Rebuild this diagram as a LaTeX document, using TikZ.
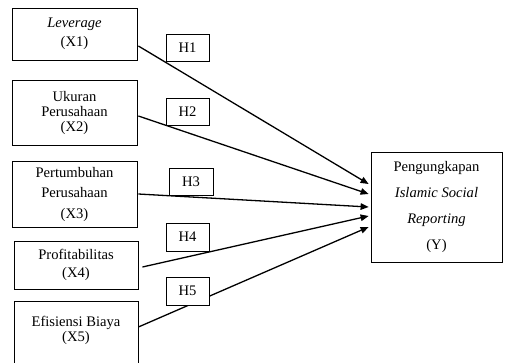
\documentclass[tikz,border=0pt]{standalone}
\usepackage{fontspec}
\setmainfont{Liberation Serif}
\usetikzlibrary{arrows.meta,calc}
\begin{document}
\begin{tikzpicture}[x=1pt,y=-1pt,
  box/.style={draw, line width=0.8pt, align=center, inner sep=0pt},
  hbox/.style={draw, fill=white, line width=0.8pt, minimum width=43pt, minimum height=27pt, inner sep=0pt, font=\fontsize{14.6}{15}\selectfont},
  conn/.style={line width=1.3pt, -{Triangle[length=8pt,width=6.5pt]}}]
\clip (0,0) rectangle (505,362);
\fill[white] (0,0) rectangle (505,362);
% independent variables
\node[box, minimum width=125pt, minimum height=52pt, font=\fontsize{14.6}{19}\selectfont] (x1) at (74.5,34) {\textit{Leverage}\\(X1)};
\node[box, minimum width=125pt, minimum height=65pt, font=\fontsize{14.6}{15}\selectfont] (x2) at (74.5,112.5) {Ukuran\\Perusahaan\\(X2)};
\node[box, minimum width=125pt, minimum height=66pt, font=\fontsize{14.6}{20.5}\selectfont] (x3) at (74.5,194) {Pertumbuhan\\Perusahaan\\(X3)};
\node[box, minimum width=124pt, minimum height=48pt, font=\fontsize{14.6}{18}\selectfont] (x4) at (76,265) {Profitabilitas\\(X4)};
\node[box, minimum width=124pt, minimum height=80pt, anchor=north] (x5) at (76,301) {};
\node[align=center, inner sep=0pt, font=\fontsize{14.6}{15}\selectfont] (x5t) at (76,330) {Efisiensi Biaya\\(X5)};
% dependent variable
\node[box, minimum width=131pt, minimum height=110pt, font=\fontsize{14.6}{26.3}\selectfont] (y) at (436.5,207) {Pengungkapan\\\textit{Islamic Social}\\\textit{Reporting}\\(Y)};
% connectors
\draw[conn] ($(x1.east)+(1,12)$) -- ($(y.west)+(-2,-23)$);
\draw[conn] ($(x2.east)+(1,3.5)$) -- ($(y.west)+(-2,-13)$);
\draw[conn] ($(x3.east)+(1,0)$) -- ($(y.west)+(-2,0)$);
\draw[conn] ($(x4.east)+(4,2)$) -- ($(y.west)+(-2,9)$);
\draw[conn] ($(x5t -| x5.east)+(0,-3)$) -- ($(y.west)+(-2,20)$);
% hypothesis labels
\node[hbox] (h1) at (187.5,47.5) {H1};
\node[hbox] (h2) at (187.5,111.5) {H2};
\node[hbox, minimum width=44pt] (h3) at (191,181.5) {H3};
\node[hbox, minimum height=28pt] (h4) at (187.5,237) {H4};
\node[hbox, minimum height=28pt] (h5) at (187.5,291) {H5};
\end{tikzpicture}
\end{document}
